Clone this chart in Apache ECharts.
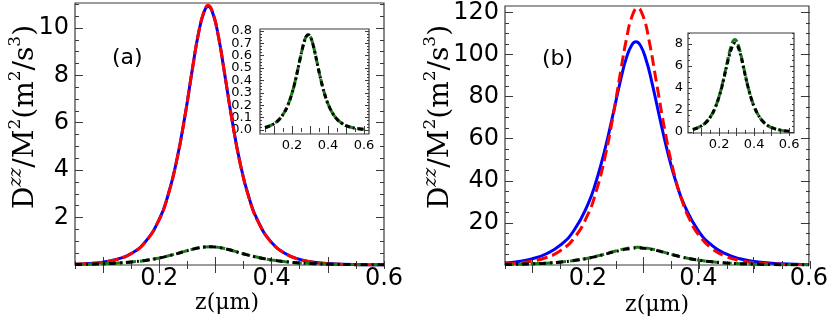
<!DOCTYPE html>
<html>
<head>
<meta charset="utf-8">
<script src="https://cdn.jsdelivr.net/npm/echarts@6/dist/echarts.min.js"></script>
<style>
  html, body { margin: 0; padding: 0; background: #fff; }
  #chart { width: 831px; height: 321px; }
</style>
</head>
<body>
<div id="chart"></div>
<script>
// z positions (um)
const zBlue = [0.05, 0.075, 0.1, 0.125, 0.15, 0.175, 0.2, 0.215, 0.23, 0.245, 0.26, 0.27, 0.28, 0.287,
  0.295, 0.305, 0.315, 0.33, 0.345, 0.36, 0.375, 0.4, 0.425, 0.45, 0.475, 0.5, 0.55, 0.6];
const zGreen = [0.05, 0.075, 0.1, 0.125, 0.15, 0.175, 0.2, 0.215, 0.23, 0.245, 0.26, 0.27, 0.28, 0.29,
  0.3, 0.31, 0.325, 0.34, 0.355, 0.37, 0.385, 0.4, 0.425, 0.45, 0.475, 0.5, 0.55, 0.6];

// panel (a)
const blueA = [0.030, 0.060, 0.121, 0.242, 0.483, 0.971, 1.93, 2.90, 4.30, 6.19, 8.42, 9.79, 10.69, 10.9,
  10.64, 9.67, 8.27, 6.05, 4.18, 2.82, 1.88, 0.943, 0.473, 0.235, 0.118, 0.059, 0.015, 0.004];
const redA = [0.028, 0.058, 0.118, 0.238, 0.478, 0.965, 1.92, 2.89, 4.29, 6.18, 8.42, 9.80, 10.72, 10.95,
  10.66, 9.68, 8.27, 6.04, 4.17, 2.81, 1.87, 0.94, 0.47, 0.233, 0.116, 0.058, 0.014, 0.004];
const greenA = [0.021, 0.033, 0.052, 0.080, 0.126, 0.194, 0.297, 0.378, 0.472, 0.574, 0.671, 0.724, 0.758, 0.77,
  0.758, 0.724, 0.641, 0.540, 0.439, 0.349, 0.273, 0.212, 0.138, 0.088, 0.057, 0.036, 0.015, 0.006];
const blackA = [0.020, 0.032, 0.051, 0.079, 0.125, 0.193, 0.296, 0.377, 0.471, 0.573, 0.670, 0.723, 0.757, 0.768,
  0.757, 0.723, 0.640, 0.539, 0.438, 0.348, 0.272, 0.211, 0.137, 0.087, 0.056, 0.035, 0.014, 0.006];

// panel (b)
const blueB = [0.97, 1.71, 3.02, 5.34, 9.40, 16.5, 28.8, 39.8, 54.0, 71.0, 88.7, 98.6, 104.7, 106,
  104.3, 97.7, 87.7, 69.9, 52.9, 38.9, 28.2, 16.2, 9.21, 5.24, 2.97, 1.68, 0.54, 0.17];
const redB = [0.52, 0.99, 1.88, 3.55, 6.73, 12.7, 24.0, 35.0, 50.1, 70.0, 93.1, 107.6, 118.1, 122,
  118.1, 107.6, 85.3, 62.9, 44.5, 30.9, 21.2, 14.5, 7.67, 4.05, 2.13, 1.12, 0.31, 0.09];
const greenB = [0.23, 0.36, 0.57, 0.87, 1.37, 2.11, 3.24, 4.12, 5.14, 6.26, 7.31, 7.89, 8.26, 8.40,
  8.26, 7.89, 6.99, 5.89, 4.79, 3.80, 2.98, 2.31, 1.50, 0.96, 0.62, 0.39, 0.16, 0.07];
const blackB = [0.22, 0.35, 0.56, 0.86, 1.36, 2.10, 3.20, 4.05, 5.05, 6.10, 7.05, 7.55, 7.90, 8.05,
  7.95, 7.65, 6.85, 5.80, 4.75, 3.78, 2.96, 2.30, 1.49, 0.95, 0.61, 0.39, 0.16, 0.07];

// tick labels
const xLabels = [0.2, 0.4, 0.6];
const yLabelsA = [2, 4, 6, 8, 10];
const yLabelsB = [20, 40, 60, 80, 100, 120];
const yLabelsInsetA = [0.0, 0.2, 0.4, 0.6, 0.8];
const yLabelsInsetAOdd = [0.1, 0.3, 0.5, 0.7];   // drawn on the overlay axis so they are not dropped
const yLabelsInsetB = [0, 2, 4, 6, 8];

const chart = echarts.init(document.getElementById('chart'));
const FRAME = '#3a3a3a';

function steps(from, to, step) {
  const out = [];
  for (let v = from; v <= to + 1e-9; v += step) out.push(+v.toFixed(4));
  return out;
}

const grids = [], xAxes = [], yAxes = [], series = [];

// one panel = a grid with frame, major ticks + labels, plus an overlaid grid for minor ticks
function panel(rect, xr, yr, o) {
  const g = grids.length;
  grids.push(Object.assign({ show: true, borderColor: FRAME, borderWidth: 1.2,
    backgroundColor: o.bg || 'transparent', containLabel: false }, rect));
  grids.push(Object.assign({ show: false }, rect));
  const xi = xAxes.length, yi = yAxes.length;
  [g, g + 1].forEach(function (gi, k) {
    const len = k === 0 ? o.major : o.minor;
    const xt = k === 0 ? o.xMajor : o.xMinor;
    const yt = k === 0 ? o.yMajor : o.yMinor;
    const yl = k === 0 ? o.yLabels : o.yLabels2;
    ['bottom', 'top'].forEach(function (pos) {
      const lab = k === 0 && pos === 'bottom';
      xAxes.push({ type: 'value', gridIndex: gi, position: pos, min: xr[0], max: xr[1],
        axisLine: { show: false }, splitLine: { show: false },
        axisTick: { inside: true, length: len, customValues: xt, lineStyle: { color: FRAME, width: 1 } },
        axisLabel: lab ? { customValues: xLabels, formatter: function (v) { return v.toFixed(1); },
          showMinLabel: true, showMaxLabel: true,
          fontFamily: 'DejaVu Sans', fontSize: o.fs, color: '#000', margin: o.xMargin } : { show: false } });
    });
    ['left', 'right'].forEach(function (pos) {
      const lab = pos === 'left' && yl;
      yAxes.push({ type: 'value', gridIndex: gi, position: pos, min: yr[0], max: yr[1],
        axisLine: { show: false }, splitLine: { show: false },
        axisTick: { inside: true, length: len, customValues: yt, lineStyle: { color: FRAME, width: 1 } },
        axisLabel: lab ? { customValues: yl, formatter: o.yFmt,
          showMinLabel: true, showMaxLabel: true,
          fontFamily: 'DejaVu Sans', fontSize: o.fs, color: '#000', margin: o.yMargin } : { show: false } });
    });
  });
  return { x: xi, y: yi };
}

function line(ax, zs, vals, color, type, width, z) {
  series.push({ type: 'line', xAxisIndex: ax.x, yAxisIndex: ax.y, smooth: true, showSymbol: false,
    symbol: 'none', z: z, data: zs.map(function (x, i) { return [x, vals[i]]; }),
    lineStyle: { color: color, type: type, width: width, cap: 'butt' }, animation: false });
}

const intFmt = function (v) { return String(Math.round(v)); };
const oneFmt = function (v) { return v.toFixed(1); };

const mainA = panel({ left: 75, top: 3, width: 309, height: 262 }, [0.05, 0.6], [0, 11.05], {
  major: 8, minor: 4, fs: 24, xMargin: 2, yMargin: 6,
  xMajor: [0.1, 0.2, 0.3, 0.4, 0.5], xMinor: steps(0.05, 0.6, 0.05),
  yMajor: yLabelsA, yMinor: steps(0.5, 11, 0.5), yLabels: yLabelsA, yFmt: intFmt });
const mainB = panel({ left: 505, top: 6, width: 305, height: 259 }, [0.05, 0.6], [0, 123], {
  major: 8, minor: 4, fs: 24, xMargin: 2, yMargin: 6,
  xMajor: [0.1, 0.2, 0.3, 0.4, 0.5], xMinor: steps(0.05, 0.6, 0.05),
  yMajor: yLabelsB, yMinor: steps(5, 120, 5), yLabels: yLabelsB, yFmt: intFmt });
const insA = panel({ left: 260, top: 29, width: 109, height: 105 }, [0.0225, 0.6275], [-0.032, 0.815], {
  major: 4, minor: 2, fs: 13, xMargin: 5, yMargin: 8, bg: '#fff',
  xMajor: [0.1, 0.2, 0.3, 0.4, 0.5, 0.6], xMinor: steps(0.05, 0.6, 0.05),
  yMajor: steps(0, 0.8, 0.1), yMinor: steps(0, 0.8, 0.025),
  yLabels: yLabelsInsetA, yLabels2: yLabelsInsetAOdd, yFmt: oneFmt });
const insB = panel({ left: 688, top: 33, width: 106, height: 100 }, [0.0225, 0.6275], [-0.1, 9.0], {
  major: 4, minor: 2, fs: 13, xMargin: 5, yMargin: 5, bg: '#fff',
  xMajor: [0.1, 0.2, 0.3, 0.4, 0.5, 0.6], xMinor: steps(0.05, 0.6, 0.05),
  yMajor: yLabelsInsetB, yMinor: steps(0, 9, 0.5), yLabels: yLabelsInsetB, yFmt: intFmt });

const GREEN = '#1c7a1c';
const DASHDOT = [7, 4, 2, 4];

line(mainA, zBlue, blueA, '#0000ff', 'solid', 3, 2);
line(mainA, zBlue, redA, '#ff0000', [12, 4], 3, 3);
line(mainA, zGreen, greenA, GREEN, [9, 4], 3, 4);
line(mainA, zGreen, blackA, '#000', DASHDOT, 3, 5);

line(mainB, zBlue, blueB, '#0000ff', 'solid', 3, 2);
line(mainB, zGreen, redB, '#ff0000', [11, 5], 3, 3);
line(mainB, zGreen, greenB, GREEN, [9, 4], 3, 4);
line(mainB, zGreen, blackB, '#000', DASHDOT, 3, 5);

line(insA, zGreen, greenA, GREEN, [8, 3], 3, 6);
line(insA, zGreen, blackA, '#000', [5, 3, 2, 3], 3, 7);
line(insB, zGreen, greenB, GREEN, [8, 3], 3, 6);
line(insB, zGreen, blackB, '#000', [5, 3, 2, 3], 3, 7);

const serif = 'DejaVu Serif';
const richY = {
  b: { fontFamily: serif, fontSize: 28, lineHeight: 38, fill: '#000', color: '#000' },
  s: { fontFamily: serif, fontSize: 18, fontStyle: 'italic', lineHeight: 18, verticalAlign: 'top', fill: '#000', color: '#000' },
  t: { fontFamily: serif, fontSize: 17, lineHeight: 17, verticalAlign: 'top', fill: '#000', color: '#000' }
};
const yName = '{b|D}{s|zz}{b|/M}{t|2}{b|(m}{t|2}{b|/s}{t|3}{b|)}';

function yTitle(x, y) {
  return { type: 'text', x: x, y: y, rotation: Math.PI / 2,
    style: { text: yName, rich: richY, align: 'center', verticalAlign: 'middle', fill: '#000' } };
}
function xTitle(x, y) {
  return { type: 'text', x: x, y: y,
    style: { text: 'z(μm)', font: '22px "DejaVu Serif"', fill: '#000', align: 'center', verticalAlign: 'middle' } };
}
function tag(x, y, t) {
  return { type: 'text', x: x, y: y,
    style: { text: t, font: '22px "DejaVu Sans"', fill: '#000', align: 'left', verticalAlign: 'top' } };
}

chart.setOption({
  animation: false,
  grid: grids,
  xAxis: xAxes,
  yAxis: yAxes,
  series: series,
  graphic: [
    yTitle(26, 117), yTitle(441, 117),
    xTitle(227, 303), xTitle(657, 305),
    tag(112, 47, '(a)'), tag(542, 48, '(b)')
  ]
});
</script>
</body>
</html>
